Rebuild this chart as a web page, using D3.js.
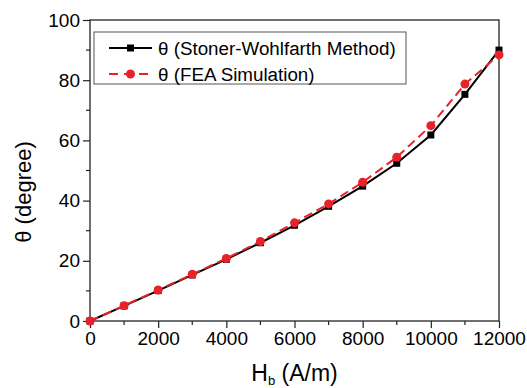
<!DOCTYPE html>
<html>
<head>
<meta charset="utf-8">
<script src="https://cdn.jsdelivr.net/npm/d3@7"></script>
<style>
  body { margin: 0; background: #fff; }
  text { font-family: "Liberation Sans", Arial, sans-serif; fill: #000; }
</style>
</head>
<body>
<div id="chart"></div>
<script>
var fieldH = [0, 1000, 2000, 3000, 4000, 5000, 6000, 7000, 8000, 9000, 10000, 11000, 12000];
var thetaSW = [0, 5, 10.1, 15.3, 20.5, 26, 31.8, 38.1, 44.8, 52.4, 61.8, 75.3, 90];
var thetaFEA = [0, 5.1, 10.3, 15.5, 20.8, 26.4, 32.6, 38.9, 46.1, 54.4, 64.9, 78.7, 88.4];
var xTicks = [0, 2000, 4000, 6000, 8000, 10000, 12000];
var yTicks = [0, 20, 40, 60, 80, 100];
var legendLabels = ["\u03b8 (Stoner-Wohlfarth Method)", "\u03b8 (FEA Simulation)"];

var W = 527, H = 388;
var margin = {top: 20, right: 28, bottom: 67, left: 90};
var width = W - margin.left - margin.right,
    height = H - margin.top - margin.bottom;

var svg = d3.select("#chart").append("svg")
    .attr("width", W)
    .attr("height", H);
var g = svg.append("g")
    .attr("transform", "translate(" + margin.left + "," + margin.top + ")");

var xScale = d3.scaleLinear().domain([0, 12000]).range([0, width]);
var yScale = d3.scaleLinear().domain([0, 100]).range([height, 0]);

// frame
g.append("rect")
    .attr("width", width)
    .attr("height", height)
    .attr("fill", "none")
    .attr("stroke", "#222")
    .attr("stroke-width", 1.3);

// minor ticks
var xMinor = d3.range(1000, 12000, 2000);
var yMinor = d3.range(10, 100, 20);
g.selectAll(".xminor").data(xMinor).enter().append("line")
    .attr("x1", function(d) { return xScale(d); })
    .attr("x2", function(d) { return xScale(d); })
    .attr("y1", height).attr("y2", height + 4)
    .attr("stroke", "#222").attr("stroke-width", 1.2);
g.selectAll(".yminor").data(yMinor).enter().append("line")
    .attr("y1", function(d) { return yScale(d); })
    .attr("y2", function(d) { return yScale(d); })
    .attr("x1", 0).attr("x2", -4)
    .attr("stroke", "#222").attr("stroke-width", 1.2);

// axes
var xAxis = d3.axisBottom(xScale).tickValues(xTicks).tickSize(7).tickPadding(4).tickFormat(d3.format("d"));
var yAxis = d3.axisLeft(yScale).tickValues(yTicks).tickSize(7).tickPadding(3).tickFormat(d3.format("d"));

var gx = g.append("g").attr("transform", "translate(0," + height + ")").call(xAxis);
var gy = g.append("g").call(yAxis);
[gx, gy].forEach(function(a) {
    a.select(".domain").remove();
    a.selectAll(".tick line").attr("stroke", "#222").attr("stroke-width", 1.2);
    a.selectAll(".tick text").style("font-size", "19px").attr("fill", "#000");
});

// axis titles
var xt = svg.append("text")
    .attr("x", margin.left + width / 2)
    .attr("y", 381)
    .attr("text-anchor", "middle")
    .style("font-size", "23px");
xt.append("tspan").text("H");
xt.append("tspan").attr("dy", 4).style("font-size", "13px").text("b");
xt.append("tspan").attr("dy", -4).text(" (A/m)");

svg.append("text")
    .attr("transform", "translate(31,192) rotate(-90)")
    .attr("text-anchor", "middle")
    .style("font-size", "22px")
    .text("\u03b8 (degree)");

// lines
var line = d3.line()
    .x(function(d) { return xScale(d[0]); })
    .y(function(d) { return yScale(d[1]); });

var swData = fieldH.map(function(h, i) { return [h, thetaSW[i]]; });
var feaData = fieldH.map(function(h, i) { return [h, thetaFEA[i]]; });

g.append("path").datum(swData)
    .attr("d", line)
    .attr("fill", "none")
    .attr("stroke", "#000")
    .attr("stroke-width", 2);

g.selectAll(".sq").data(swData).enter().append("rect")
    .attr("x", function(d) { return xScale(d[0]) - 3.5; })
    .attr("y", function(d) { return yScale(d[1]) - 3.5; })
    .attr("width", 7).attr("height", 7)
    .attr("fill", "#000");

g.append("path").datum(feaData)
    .attr("d", line)
    .attr("fill", "none")
    .attr("stroke", "#e8222a")
    .attr("stroke-width", 2)
    .attr("stroke-dasharray", "9,5");

g.selectAll(".dot").data(feaData).enter().append("circle")
    .attr("cx", function(d) { return xScale(d[0]); })
    .attr("cy", function(d) { return yScale(d[1]); })
    .attr("r", 4.5)
    .attr("fill", "#e8222a");

// legend
var leg = svg.append("g");
leg.append("rect")
    .attr("x", 94).attr("y", 32)
    .attr("width", 312).attr("height", 52)
    .attr("fill", "#fff")
    .attr("stroke", "#555")
    .attr("stroke-width", 1);

leg.append("line")
    .attr("x1", 109).attr("x2", 152).attr("y1", 48).attr("y2", 48)
    .attr("stroke", "#000").attr("stroke-width", 2);
leg.append("rect")
    .attr("x", 127).attr("y", 44.5).attr("width", 7).attr("height", 7)
    .attr("fill", "#000");
leg.append("line")
    .attr("x1", 109).attr("x2", 152).attr("y1", 74).attr("y2", 74)
    .attr("stroke", "#e8222a").attr("stroke-width", 2)
    .attr("stroke-dasharray", "9,6");
leg.append("circle")
    .attr("cx", 130.5).attr("cy", 74).attr("r", 4.5)
    .attr("fill", "#e8222a");

leg.selectAll(".lt").data(legendLabels).enter().append("text")
    .attr("x", 158)
    .attr("y", function(d, i) { return 54.5 + i * 26; })
    .style("font-size", "18.8px")
    .text(function(d) { return d; });
</script>
</body>
</html>
